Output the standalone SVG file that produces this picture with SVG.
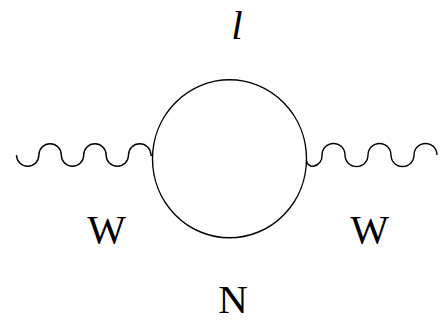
<svg xmlns="http://www.w3.org/2000/svg" width="448" height="324" viewBox="0 0 448 324">
<style>
.ln{fill:none;stroke:#000;stroke-width:1.4}
.lb{font-family:"Liberation Serif","Times New Roman",serif;font-size:41px;fill:#000;text-anchor:middle}
</style>
<rect width="448" height="324" fill="#fff"/>
<g id="connectors">
<path class="ln" d="M16.5,155 A11.2,11.2 0 0 0 38.9,155 A11.2,11.2 0 0 1 61.3,155 A11.2,11.2 0 0 0 83.7,155 A11.2,11.2 0 0 1 106.1,155 A11.2,11.2 0 0 0 128.5,155 A11.2,11.2 0 0 1 150.9,155 L152.7,156"/>
<path class="ln" d="M306.5,161 Q308,166.5 313.5,166.3 A10.5,10.5 0 0 0 322,155 A11.5,11.5 0 0 1 345,155 A11.5,11.5 0 0 0 368,155 A11.5,11.5 0 0 1 391,155 A11.5,11.5 0 0 0 414,155 A11.5,11.5 0 0 1 437,155"/>
</g>
<g id="loop">
<ellipse class="ln" cx="229.5" cy="158.8" rx="77" ry="79"/>
</g>
<g id="label-l"><text class="lb" x="237" y="39" font-style="italic">l</text></g>
<g id="label-w-left"><text class="lb" x="106.5" y="243">W</text></g>
<g id="label-w-right"><text class="lb" x="369.5" y="243">W</text></g>
<g id="label-n"><text class="lb" x="233" y="313">N</text></g>
</svg>
